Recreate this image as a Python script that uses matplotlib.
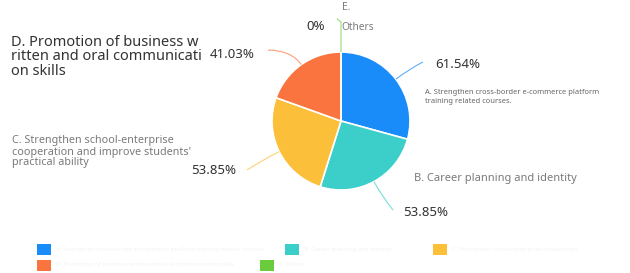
import numpy as np
import matplotlib
matplotlib.use("Agg")
import matplotlib.pyplot as plt
from matplotlib.patches import Rectangle, PathPatch
from matplotlib.path import Path

plt.rcParams['font.family'] = ['Noto Sans', 'DejaVu Sans']

# ---- data ----
categories = [
    "A. Strengthen cross-border e-commerce platform\ntraining related courses.",
    "B. Career planning and identity",
    "C. Strengthen school-enterprise\ncooperation and improve students'\npractical ability",
    "D. Promotion of business w\nritten and oral communicati\non skills",
    "E.\nOthers",
]
legend_labels = [
    "A. Strengthen cross-border e-commerce platform training related courses.",
    "B. Career planning and identity",
    "C. Strengthen school-enterprise cooperation",
    "D. Promotion of business written and oral communication skills",
    "E. Others",
]
values = [61.54, 53.85, 53.85, 41.03, 0.0]
value_labels = ["61.54%", "53.85%", "53.85%", "41.03%", "0%"]
colors = ["#1a8cfa", "#3ccfca", "#fbbf3a", "#fa7440", "#6acc3c"]

W, H = 630, 273
fig = plt.figure(figsize=(W / 100, H / 100), dpi=100)
fig.patch.set_facecolor("white")

def fx(x):
    return x / W

def fy(y):
    return 1 - y / H

# pie axes: center (341,121), radius 69 px
cx, cy, R = 341, 121, 69
ax = fig.add_axes([fx(cx - R), fy(cy + R), 2 * R / W, 2 * R / H])
wedges, _ = ax.pie(values, colors=colors, startangle=90, counterclock=False,
                   radius=1, wedgeprops=dict(edgecolor="white", linewidth=1.2))
ax.set_xlim(-1, 1)
ax.set_ylim(-1, 1)
ax.set_aspect("equal")
ax.axis("off")

# mid angles of slices
total = sum(values)
fr = np.array(values) / total
cum = np.concatenate([[0], np.cumsum(fr)])
mids = 90 - 360 * (cum[:-1] + cum[1:]) / 2

def to_data(px, py):
    return ((px - cx) / R, (cy - py) / R)

# leader line endpoints (layout, in pixels)
ends = [(423, 62), (393, 210), (247, 170), (268, 50), (341, 22)]
for i, (m, col) in enumerate(zip(mids, colors)):
    a = np.deg2rad(m)
    p0 = (np.cos(a), np.sin(a))
    if i == 4:
        e = to_data(*ends[i])
        verts = [p0, e, (e[0] - 0.02, e[1] + 0.01), (e[0] - 0.06, e[1] + 0.05)]
        codes = [Path.MOVETO, Path.LINETO, Path.CURVE3, Path.CURVE3]
    else:
        c = (1.25 * np.cos(a), 1.25 * np.sin(a))
        e = to_data(*ends[i])
        verts = [p0, c, e]
        codes = [Path.MOVETO, Path.CURVE3, Path.CURVE3]
    ax.add_patch(PathPatch(Path(verts, codes), facecolor="none", edgecolor=col,
                           lw=0.8, alpha=0.7, clip_on=False))

dark = "#333333"
gray = "#7a7a7a"

# value labels
fig.text(fx(435), fy(65), value_labels[0], fontsize=9.5, color=dark, va="center", ha="left")
fig.text(fx(403), fy(213), value_labels[1], fontsize=9.5, color=dark, va="center", ha="left")
fig.text(fx(191), fy(171), value_labels[2], fontsize=9.5, color=dark, va="center", ha="left")
fig.text(fx(210), fy(55), value_labels[3], fontsize=9.5, color=dark, va="center", ha="left")
fig.text(fx(316), fy(27), value_labels[4], fontsize=9.5, color=dark, va="center", ha="center")

# category labels
fig.text(fx(425), fy(97), categories[0], fontsize=5.4, color="#666666", va="center",
         ha="left", linespacing=1.25)
fig.text(fx(414), fy(178), categories[1], fontsize=8, color=gray, va="center", ha="left")
fig.text(fx(12), fy(152), categories[2], fontsize=7.8, color=gray, va="center",
         ha="left", linespacing=1.0)
fig.text(fx(11), fy(57), categories[3], fontsize=10.5, color=dark, va="center",
         ha="left", linespacing=0.95)
e_lines = categories[4].split("\n")
fig.text(fx(342), fy(8), e_lines[0], fontsize=7.3, color=gray, va="center", ha="left")
fig.text(fx(341), fy(28), e_lines[1], fontsize=7.3, color=gray, va="center", ha="left")

# legend (text nearly invisible as in reference)
leg_pos = [(37, 249), (285, 249), (433, 249), (37, 265), (260, 265)]
for (lx, ly), col, lab in zip(leg_pos, colors, legend_labels):
    fig.patches.append(Rectangle((fx(lx), fy(ly + 5.5)), 14 / W, 11 / H,
                                 transform=fig.transFigure, facecolor=col,
                                 edgecolor="none"))
    fig.text(fx(lx + 19), fy(ly), lab, fontsize=4.3, color="#f3f3f3",
             va="center", ha="left")

fig.savefig("out.png", dpi=100, facecolor="white")
